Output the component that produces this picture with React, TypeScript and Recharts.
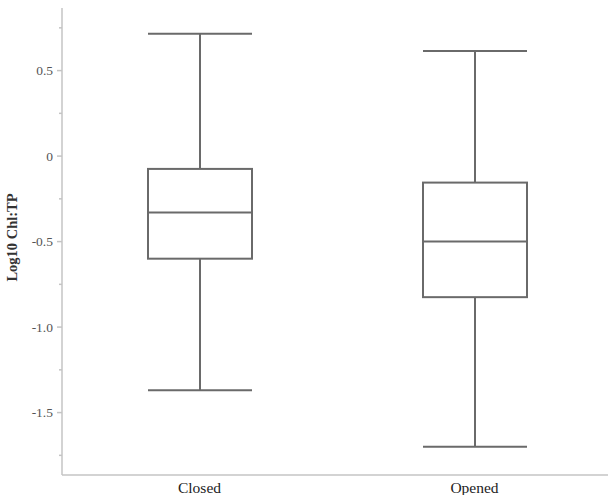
import React from "react";
import { ComposedChart, Bar, XAxis, YAxis } from "recharts";

// Box-plot summary of log10 Chl:TP by canopy state
const groups = ["Closed", "Opened"];
const whiskerLow = [-1.37, -1.7];
const quartile1 = [-0.6, -0.825];
const medians = [-0.33, -0.5];
const quartile3 = [-0.075, -0.155];
const whiskerHigh = [0.715, 0.615];

const majorTicks = [0.5, 0, -0.5, -1.0, -1.5];
const majorTickLabels = ["0.5", "0", "-0.5", "-1.0", "-1.5"];
const minorTicks = [0.75, 0.25, -0.25, -0.75, -1.25, -1.75];

const yDomain: [number, number] = [-1.865, 0.866];

const data = groups.map((g, i) => ({
  name: g,
  range: [whiskerLow[i], whiskerHigh[i]],
  low: whiskerLow[i],
  q1: quartile1[i],
  median: medians[i],
  q3: quartile3[i],
  high: whiskerHigh[i],
}));

const serif = "'Liberation Serif', 'DejaVu Serif', serif";
const boxStroke = "#6a6a6a";
const axisStroke = "#c4c4c4";

const BoxShape = (props: any) => {
  const { x, y, width, height, payload } = props;
  const top = Math.min(y, y + height);
  const bottom = Math.max(y, y + height);
  const { low, high, q1, q3, median } = payload;
  const toPx = (v: number) => top + ((high - v) / (high - low)) * (bottom - top);
  const cx = x + width / 2;
  const yQ1 = toPx(q1);
  const yQ3 = toPx(q3);
  const yMed = toPx(median);
  return (
    <g stroke={boxStroke} strokeWidth={2} fill="none">
      <line x1={x} x2={x + width} y1={top} y2={top} />
      <line x1={cx} x2={cx} y1={top} y2={yQ3} />
      <rect x={x} y={yQ3} width={width} height={yQ1 - yQ3} fill="#fff" />
      <line x1={x} x2={x + width} y1={yMed} y2={yMed} />
      <line x1={cx} x2={cx} y1={yQ1} y2={bottom} />
      <line x1={x} x2={x + width} y1={bottom} y2={bottom} />
    </g>
  );
};

const YTick = (props: any) => {
  const { y, payload } = props;
  const v = payload.value;
  const idx = majorTicks.findIndex((t) => Math.abs(t - v) < 1e-9);
  const axisX = 62;
  const len = idx >= 0 ? 5 : 3;
  return (
    <g>
      <line x1={axisX - len} x2={axisX} y1={y} y2={y} stroke={axisStroke} strokeWidth={1.5} />
      {idx >= 0 && (
        <text
          x={axisX - 9}
          y={y}
          dy={4.5}
          textAnchor="end"
          fontFamily={serif}
          fontSize={13.5}
          fill="#555"
        >
          {majorTickLabels[idx]}
        </text>
      )}
    </g>
  );
};

const XTick = (props: any) => {
  const { x, y, payload } = props;
  return (
    <text
      x={x}
      y={y}
      dy={11}
      textAnchor="middle"
      fontFamily={serif}
      fontSize={15.5}
      fill="#222"
    >
      {payload.value}
    </text>
  );
};

export default function App() {
  return (
    <div
      style={{
        position: "absolute",
        left: 0,
        top: 0,
        width: 608,
        height: 495,
        overflow: "hidden",
        background: "#fff",
      }}
    >
      <ComposedChart
        width={620}
        height={495}
        data={data}
        margin={{ top: 8, right: 8, bottom: 0, left: 0 }}
        barSize={104}
      >
        <XAxis
          xAxisId="top"
          dataKey="name"
          orientation="top"
          height={0}
          tick={false}
          tickLine={false}
          axisLine={{ stroke: axisStroke, strokeWidth: 1.5 }}
        />
        <XAxis
          dataKey="name"
          height={20}
          tickLine={false}
          axisLine={{ stroke: axisStroke, strokeWidth: 1.5 }}
          tick={<XTick />}
          tickMargin={1}
        />
        <YAxis
          width={62}
          type="number"
          domain={yDomain}
          ticks={[...majorTicks, ...minorTicks].sort((a, b) => b - a)}
          interval={0}
          allowDataOverflow
          tickLine={false}
          tick={<YTick />}
          axisLine={{ stroke: axisStroke, strokeWidth: 1.5 }}
          label={{
            value: "Log10 Chl:TP",
            angle: -90,
            position: "insideLeft",
            offset: 12,
            dy: -4,
            style: {
              fontFamily: serif,
              fontSize: 14.5,
              fontWeight: "bold",
              fill: "#333",
              textAnchor: "middle",
            },
          }}
        />
        <Bar dataKey="range" shape={<BoxShape />} isAnimationActive={false} />
      </ComposedChart>
    </div>
  );
}
